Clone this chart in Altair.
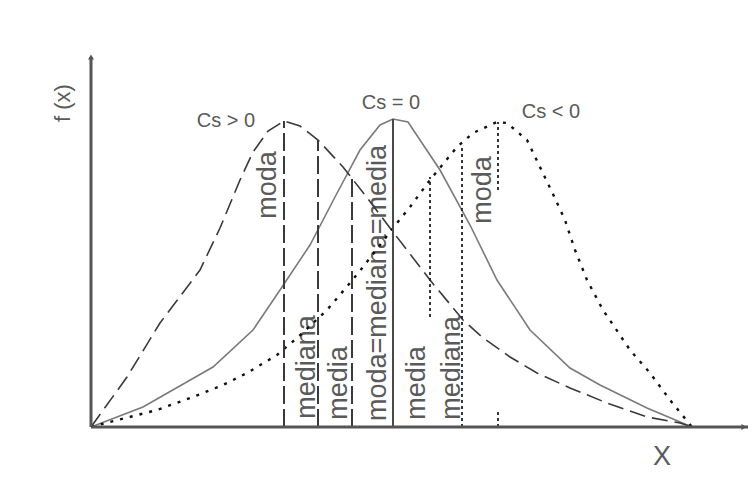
import altair as alt
import pandas as pd

# ---- curve data (x position, f(x) height) ----
pos_x = [0, 36, 69, 109, 129, 149, 162, 177, 193, 209, 227, 252, 274, 299, 339, 372, 391, 419, 446, 479, 516, 556, 589, 601]
pos_f = [0, 50, 104, 157, 199, 247, 275, 296, 306, 301, 287, 260, 232, 199, 147, 107, 90, 70, 54, 39, 24, 10, 4, 0]

sym_x = [0, 52, 122, 162, 189, 219, 244, 269, 289, 302, 317, 349, 379, 406, 439, 479, 509, 556, 601]
sym_f = [0, 20, 60, 97, 137, 182, 230, 277, 302, 308, 305, 257, 202, 147, 97, 59, 42, 19, 0]

neg_x = [0, 19, 66, 102, 132, 156, 186, 206, 236, 259, 272, 306, 319, 339, 366, 382, 406, 416, 436, 449, 461, 474, 484, 496, 512, 539, 559, 579, 601]
neg_f = [0, 5, 17, 30, 42, 54, 72, 89, 117, 144, 160, 204, 220, 247, 280, 294, 305, 304, 287, 260, 235, 207, 177, 147, 117, 77, 54, 27, 0]

# ---- vertical marker lines: x, bottom, top ----
pos_rule_x = [193, 227, 261]
pos_rule_lo = [0, 0, 0]
pos_rule_hi = [306, 287, 250]

sym_rule_x = [302]
sym_rule_lo = [0]
sym_rule_hi = [308]

neg_rule_x = [339, 371, 407, 407]
neg_rule_lo = [110, 0, 237, 0]
neg_rule_hi = [250, 282, 305, 17]

# ---- labels ----
title_text = ["Cs > 0", "Cs = 0", "Cs < 0"]
title_x = [135, 300, 460]
title_y = [306, 324, 315]

vlabel_text = ["moda", "mediana", "media", "moda=mediana=media", "media", "mediana", "moda"]
vlabel_x = [177, 216, 248, 287, 326, 361, 392]
vlabel_y = [242, 60, 44, 144, 44, 59, 237]

# axes
axis_x = [0, 665]
axis_y = [0, 370]

XS = alt.Scale(domain=[-83, 657], nice=False, zero=False)
YS = alt.Scale(domain=[-47, 419], nice=False, zero=False)
FONT = "Liberation Sans, Arial"
TXT = "#5a5a5a"


def line_layer(xs, fs, color, width, dash=None):
    df = pd.DataFrame({"x": xs, "f": fs, "o": range(len(xs))})
    kw = dict(color=color, strokeWidth=width, clip=True)
    if dash:
        kw["strokeDash"] = dash
    return alt.Chart(df).mark_line(**kw).encode(
        x=alt.X("x:Q", scale=XS, axis=None),
        y=alt.Y("f:Q", scale=YS, axis=None),
        order="o:Q",
    )


def rule_layer(xs, lo, hi, color, width, dash=None):
    df = pd.DataFrame({"x": xs, "lo": lo, "hi": hi})
    kw = dict(color=color, strokeWidth=width)
    if dash:
        kw["strokeDash"] = dash
    return alt.Chart(df).mark_rule(**kw).encode(
        x=alt.X("x:Q", scale=XS, axis=None),
        y=alt.Y("lo:Q", scale=YS, axis=None),
        y2="hi:Q",
    )


axis_df_x = pd.DataFrame({"x": [axis_x[0]], "x2": [axis_x[1]], "y": [0]})
axis_df_y = pd.DataFrame({"x": [0], "y": [axis_y[0]], "y2": [axis_y[1]]})

x_axis = alt.Chart(axis_df_x).mark_rule(color="#555555", strokeWidth=3, clip=True).encode(
    x=alt.X("x:Q", scale=XS, axis=None), x2="x2:Q", y=alt.Y("y:Q", scale=YS, axis=None)
)
y_axis = alt.Chart(axis_df_y).mark_rule(color="#555555", strokeWidth=3).encode(
    x=alt.X("x:Q", scale=XS, axis=None), y=alt.Y("y:Q", scale=YS, axis=None), y2="y2:Q"
)
arrow_up = alt.Chart(pd.DataFrame({"x": [0], "y": [axis_y[1]]})).mark_point(
    shape="triangle-up", filled=True, color="#555555", size=35, opacity=1
).encode(x=alt.X("x:Q", scale=XS, axis=None), y=alt.Y("y:Q", scale=YS, axis=None))
arrow_right = alt.Chart(pd.DataFrame({"x": [653], "y": [0]})).mark_point(
    shape="triangle-right", filled=True, color="#555555", size=35, opacity=1
).encode(x=alt.X("x:Q", scale=XS, axis=None), y=alt.Y("y:Q", scale=YS, axis=None))

titles = alt.Chart(pd.DataFrame({"t": title_text, "x": title_x, "y": title_y})).mark_text(
    font=FONT, fontSize=20, color=TXT, align="center", baseline="middle"
).encode(x=alt.X("x:Q", scale=XS, axis=None), y=alt.Y("y:Q", scale=YS, axis=None), text="t:N")

vlabels = alt.Chart(pd.DataFrame({"t": vlabel_text, "x": vlabel_x, "y": vlabel_y})).mark_text(
    font=FONT, fontSize=27, color=TXT, align="center", baseline="middle", angle=270
).encode(x=alt.X("x:Q", scale=XS, axis=None), y=alt.Y("y:Q", scale=YS, axis=None), text="t:N")

ylab = alt.Chart(pd.DataFrame({"t": ["f (x)"], "x": [-28], "y": [324]})).mark_text(
    font=FONT, fontSize=22, color=TXT, align="center", baseline="middle", angle=270
).encode(x=alt.X("x:Q", scale=XS, axis=None), y=alt.Y("y:Q", scale=YS, axis=None), text="t:N")

xlab = alt.Chart(pd.DataFrame({"t": ["X"], "x": [571], "y": [-30]})).mark_text(
    font=FONT, fontSize=27, color=TXT, align="center", baseline="middle"
).encode(x=alt.X("x:Q", scale=XS, axis=None), y=alt.Y("y:Q", scale=YS, axis=None), text="t:N")

chart = alt.layer(
    vlabels,
    titles,
    ylab,
    xlab,
    line_layer(sym_x, sym_f, "#7a7a7a", 1.6),
    line_layer(pos_x, pos_f, "#3a3a3a", 1.6, [16, 7]),
    line_layer(neg_x, neg_f, "#111111", 2.4, [3, 7]),
    rule_layer(pos_rule_x, pos_rule_lo, pos_rule_hi, "#3a3a3a", 2, [18, 5]),
    rule_layer(sym_rule_x, sym_rule_lo, sym_rule_hi, "#4a4a4a", 2),
    rule_layer(neg_rule_x, neg_rule_lo, neg_rule_hi, "#222222", 1.8, [3, 3]),
    x_axis,
    y_axis,
    arrow_up,
    arrow_right,
).properties(
    width=740, height=466, padding=0, autosize=alt.AutoSizeParams(type="none"), background="white"
).configure_view(stroke=None)

chart.save("out.html", embed_options={"renderer": "svg", "actions": False})
